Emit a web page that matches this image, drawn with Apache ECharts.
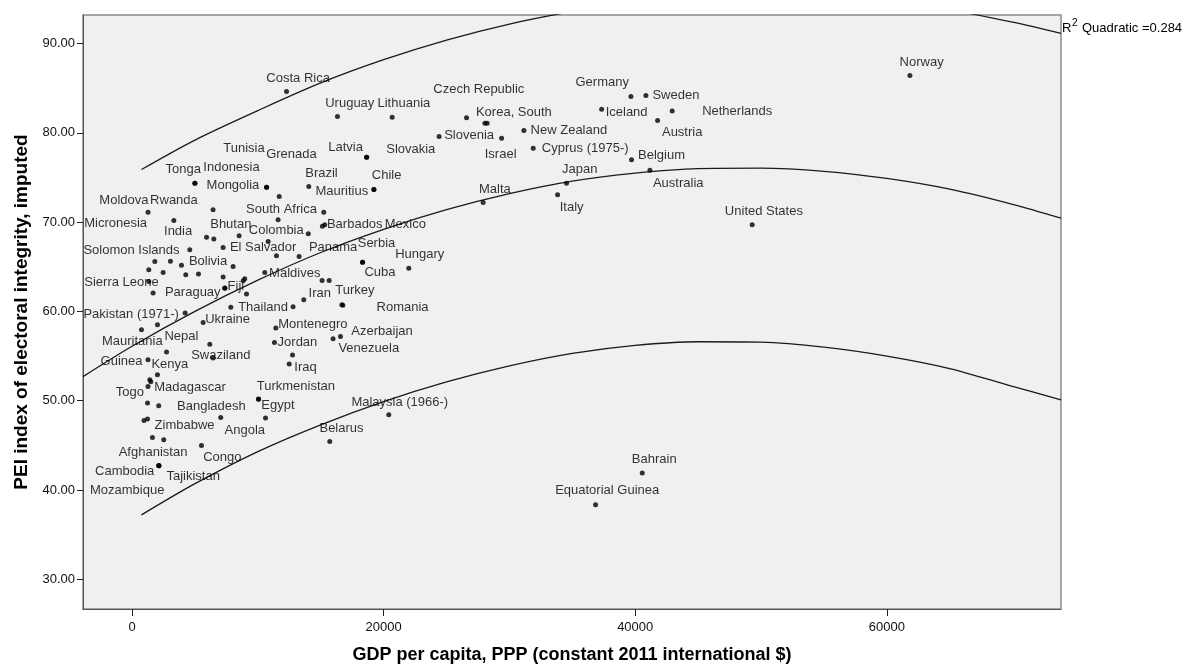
<!DOCTYPE html>
<html>
<head>
<meta charset="utf-8">
<script src="https://cdn.jsdelivr.net/npm/echarts@6/dist/echarts.min.js"></script>
<style>
html,body{margin:0;padding:0;background:#fff;}
#chart{width:1195px;height:668px;}
</style>
</head>
<body>
<div id="chart"></div>
<script>
// ---- data ----
const countries = ["Costa Rica","Uruguay","Lithuania","Czech Republic","Korea, South","","Slovenia","Israel","New Zealand","Cyprus (1975-)",
"Latvia","Slovakia","Tonga","Mongolia","Indonesia","Tunisia","Grenada","Brazil","Mauritius","Chile",
"Malta","Japan","Italy","Germany","Sweden","Iceland","Netherlands","Austria","Belgium","Australia",
"United States","Norway","Bahrain","Equatorial Guinea","Moldova","Rwanda","Micronesia","India","Bhutan","",
"South Africa","","Colombia","Barbados","Mexico","El Salvador","Panama","Serbia","Cuba","Hungary",
"Solomon Islands","Bolivia","Sierra Leone","Paraguay","Fiji","Maldives","Thailand","Iran","Turkey","Romania",
"Montenegro","Jordan","Azerbaijan","Venezuela","Iraq","","Ukraine","Pakistan (1971-)","Mauritania","Nepal",
"Guinea","Kenya","Swaziland","","Togo","Madagascar","","","","",
"Bangladesh","Egypt","Turkmenistan","Angola","Zimbabwe","","Afghanistan","","Congo","Cambodia",
"Tajikistan","Mozambique","Belarus","Malaysia (1966-)","","","","","","",
"","","","","","","","","","",""];
const gdp = [12280,16330,20680,26590,28050,28230,24410,29380,31150,31890,
18640,18660,4990,5000,10690,10700,11700,14050,19220,19230,
27910,34540,33830,39660,40850,37330,42940,41780,39710,41170,
49300,61840,40560,36850,1270,6440,3320,5920,6500,8510,
11610,15240,14010,15320,15130,7240,13280,18320,18330,22000,
4590,8030,1330,7370,7380,10550,12800,13650,16680,16760,
11430,11320,16570,15980,12490,12760,5650,4220,750,2020,
1270,2740,6440,6180,1230,1270,1410,1490,2020,2120,
7050,10050,10060,10610,1230,950,1620,2520,5520,2120,
2130,2140,15720,20410,1810,3050,3930,1330,2470,4270,
5280,7240,8960,8840,1670,9100,7850,10820,11480,15110,15670];
const pei = [84.63,81.83,81.76,81.71,81.09,81.09,79.59,79.41,80.26,78.29,
77.28,77.26,74.37,74.35,73.92,73.90,72.87,73.99,73.67,73.65,
72.19,74.37,73.06,84.07,84.18,82.65,82.46,81.38,76.98,75.82,
69.70,86.42,41.89,38.34,71.12,71.38,70.18,68.32,68.10,68.47,
70.26,71.12,68.69,69.70,69.53,67.16,66.15,65.52,65.50,64.85,
66.90,65.03,63.35,62.61,62.60,64.36,60.52,61.30,60.74,60.68,
58.13,56.52,57.19,56.93,54.10,55.11,58.76,59.81,57.94,58.50,
54.58,55.44,54.77,56.32,49.73,51.59,52.34,52.12,52.90,49.43,
48.12,50.18,50.16,48.05,47.94,47.78,45.88,45.62,44.98,42.74,
42.72,42.70,45.43,48.42,65.59,65.63,65.18,64.66,64.36,64.10,
64.18,63.87,63.65,63.43,62.05,61.94,60.48,67.83,66.23,63.46,63.46];

// quadratic fit line and its prediction bounds
const fitX = [-3900,0,5000,10000,15000,20000,25000,30000,35000,40000,45000,50000,55000,60000,65000,70000,73850];
const fitY = [52.7,56.1,60.0,63.5,66.6,69.2,71.4,73.2,74.6,75.5,76.0,76.05,75.7,74.9,73.7,72.0,70.45];
const upperX = [750,5000,10000,15000,20000,25000,30000,35000,40000,45000,50000,55000,60000,65000,70000,73850];
const upperY = [75.9,79.2,82.5,85.6,88.2,90.4,92.2,93.6,94.7,95.3,95.55,95.4,94.8,93.8,92.4,91.16];
const lowerX = [750,5000,10000,15000,20000,25000,30000,35000,40000,45000,50000,55000,60000,65000,70000,73850];
const lowerY = [37.2,40.7,44.3,47.3,49.9,52.1,53.9,55.3,56.2,56.6,56.55,56.0,55.0,53.6,51.6,50.1];

const xTicks = [0,20000,40000,60000];
const yTicks = [30,40,50,60,70,80,90];

// ---- layout: label offsets in px (label centre relative to the dot) ----
const labelOffsets = {
"Costa Rica":[11.6,-12.7],"Uruguay":[12.3,-13.4],"Lithuania":[11.7,-13.3],"Czech Republic":[12.3,-28.4],
"Korea, South":[29,-11],"Slovenia":[30,-0.7],"Israel":[-1,16.7],"New Zealand":[45,0],"Cyprus (1975-)":[52,0.7],
"Latvia":[-21,-10],"Slovakia":[44,-8],"Tonga":[-11.5,-13.3],"Mongolia":[38,2],"Indonesia":[-35,-20],
"Tunisia":[-22.7,-39],"Grenada":[12.2,-41.7],"Brazil":[12.7,-12.7],"Mauritius":[-32,2.2],"Chile":[12.7,-14.5],
"Malta":[11.7,-12.7],"Japan":[13.3,-13.3],"Italy":[14,12.7],"Germany":[-28.7,-14],"Sweden":[30,0.3],
"Iceland":[25,3],"Netherlands":[65,0],"Austria":[24.6,12],"Belgium":[30,-4],"Australia":[28.3,13],
"United States":[11.7,-13.3],"Norway":[11.7,-13.4],"Bahrain":[12,-13.3],"Equatorial Guinea":[11.6,-14],
"Moldova":[-24.1,-11.3],"Rwanda":[-39.1,-9],"Micronesia":[-58.2,2.6],"India":[-28.4,-5.6],"Bhutan":[17,-15],
"South Africa":[3.4,-10.7],"Colombia":[-32,-3.3],"Barbados":[30,-0.3],"Mexico":[83,-1.8],"El Salvador":[40,-0.4],
"Panama":[34,-9.4],"Serbia":[14,-19],"Cuba":[17.3,10.4],"Hungary":[11,-14],"Solomon Islands":[-58.3,1],
"Bolivia":[-25,-5],"Sierra Leone":[-27.3,1],"Paraguay":[-32,4.4],"Fiji":[11,-1.6],"Maldives":[30,0.6],
"Thailand":[-30,0.7],"Iran":[16,-6.7],"Turkey":[13,-14],"Romania":[59.7,1.8],"Montenegro":[37,-4],
"Jordan":[23,0],"Azerbaijan":[41.6,-5],"Venezuela":[35.7,10],"Iraq":[16.4,3.4],"Ukraine":[24.5,-3.4],
"Pakistan (1971-)":[-54,1.7],"Mauritania":[-9.2,11.7],"Nepal":[24,11.7],"Guinea":[-26.5,1.7],"Kenya":[3.3,12],
"Swaziland":[7.7,-2.6],"Togo":[-17.7,-10.6],"Madagascar":[42,1],"Bangladesh":[-9.3,-11],"Egypt":[19.5,6.4],
"Turkmenistan":[37.3,-13.3],"Angola":[-20.7,12.4],"Zimbabwe":[37,6.7],"Afghanistan":[0.6,15],"Congo":[20.8,12],
"Cambodia":[-34,6],"Tajikistan":[34.3,11],"Mozambique":[-31.8,25],"Belarus":[11.7,-13.4],"Malaysia (1966-)":[11,-12.3]
};

const FONT = '"Liberation Sans", Arial, sans-serif';
const chart = echarts.init(document.getElementById('chart'), null, {renderer:'canvas'});

const scatterData = countries.map((n, i) => ({
  name: n,
  value: [gdp[i], pei[i]],
  label: n ? {show:true, formatter:n, position:'inside', offset: labelOffsets[n] || [0,-12],
              color:'#000', fontSize:13, fontFamily:FONT} : {show:false}
}));

const lineStyle = {color:'#1a1a1a', width:1.3};
const curve = (xs, ys) => xs.map((x, i) => [x, ys[i]]);

chart.setOption({
  animation: false,
  backgroundColor: '#ffffff',
  grid: {left:83, right:134, top:15, bottom:59, show:true, backgroundColor:'#f0f0f0',
         borderColor:'#8a8a8a', borderWidth:1.5, containLabel:false, outerBoundsMode:'none'},
  xAxis: {
    type:'value', min:-3900, max:73850,
    name:'GDP per capita, PPP (constant 2011 international $)',
    nameLocation:'middle', nameGap:37,
    nameTextStyle:{fontFamily:FONT, fontSize:18, fontWeight:'bold', color:'#000'},
    axisLine:{show:true, onZero:false, lineStyle:{color:'#555', width:1}},
    axisTick:{show:true, inside:false, length:7, customValues:xTicks, lineStyle:{color:'#222'}},
    axisLabel:{show:true, customValues:xTicks, formatter:v => String(v), margin:12,
               fontFamily:FONT, fontSize:13, color:'#111'},
    splitLine:{show:false}
  },
  yAxis: {
    type:'value', min:26.66, max:93.21,
    name:'PEI index of electoral integrity, imputed',
    nameLocation:'middle', nameGap:51, nameRotate:90,
    nameTextStyle:{fontFamily:FONT, fontSize:19, fontWeight:'bold', color:'#000'},
    axisLine:{show:true, onZero:false, lineStyle:{color:'#555', width:1}},
    axisTick:{show:true, inside:false, length:6, customValues:yTicks, lineStyle:{color:'#222'}},
    axisLabel:{show:true, customValues:yTicks, formatter:v => Number(v).toFixed(2), margin:8,
               fontFamily:FONT, fontSize:13, color:'#111'},
    splitLine:{show:false}
  },
  series: [
    {type:'line', data:curve(fitX, fitY), smooth:0.3, showSymbol:false, symbol:'none',
     lineStyle:lineStyle, clip:true, silent:true, z:2},
    {type:'line', data:curve(upperX, upperY), smooth:0.3, showSymbol:false, symbol:'none',
     lineStyle:lineStyle, clip:true, silent:true, z:2},
    {type:'line', data:curve(lowerX, lowerY), smooth:0.3, showSymbol:false, symbol:'none',
     lineStyle:lineStyle, clip:true, silent:true, z:2},
    {type:'scatter', data:scatterData, symbol:'circle', symbolSize:5, silent:true, z:3,
     itemStyle:{color:'#000'},
     label:{fontFamily:FONT, fontSize:13, color:'#000', align:'center', verticalAlign:'middle',
            textBorderWidth:0},
     emphasis:{disabled:true}}
  ],
  graphic: [
    {type:'text', x:1062, y:28.5, silent:true,
     style:{text:'R', fontFamily:FONT, fontSize:13, fill:'#000', align:'left', verticalAlign:'middle'}},
    {type:'text', x:1072, y:23.5, silent:true,
     style:{text:'2', fontFamily:FONT, fontSize:10, fill:'#000', align:'left', verticalAlign:'middle'}},
    {type:'text', x:1082, y:28.5, silent:true,
     style:{text:'Quadratic =0.284', fontFamily:FONT, fontSize:13, fill:'#000', align:'left', verticalAlign:'middle'}}
  ]
});
</script>
</body>
</html>
